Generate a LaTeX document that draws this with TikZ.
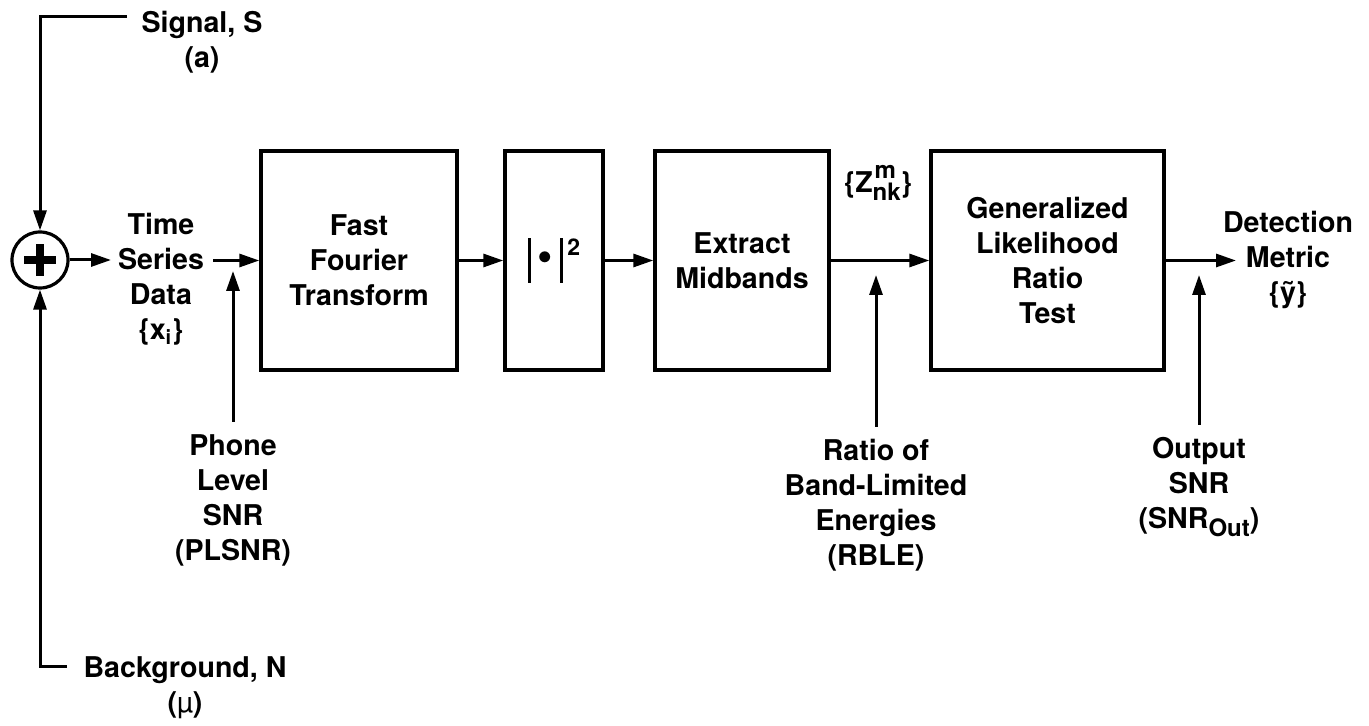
\documentclass[tikz,border=0pt]{standalone}
\usepackage{fontspec}
\setmainfont{TeX Gyre Heros}
\usetikzlibrary{arrows.meta}
\begin{document}
\begin{tikzpicture}[x=0.5pt,y=-0.5pt,
  lbl/.style={font=\bfseries\fontsize{14.3}{17.5}\selectfont, align=center, inner sep=0pt},
  blk/.style={draw, line width=1.7pt, inner sep=0pt, minimum height=109.5pt, font=\bfseries\fontsize{14.3}{17.5}\selectfont, align=center},
  arr/.style={line width=1.5pt, -{Triangle[length=10pt,width=6.5pt]}},
  ln/.style={line width=1.5pt}]
\useasboundingbox (0,0) rectangle (1369,726);

% summing junction
\node[circle, draw, line width=1.6pt, minimum size=28pt, inner sep=0pt] (sum) at (40,260) {};
\draw[line width=3.6pt] ([xshift=-8pt]sum.center) -- ([xshift=8pt]sum.center);
\draw[line width=3.6pt] ([yshift=-8pt]sum.center) -- ([yshift=8pt]sum.center);

% blocks
\node[blk, minimum width=98pt] (fft) at (359,260.5) {Fast\\Fourier\\Transform};
\node[blk, minimum width=49pt] (mag) at (554,260.5) {\rule[-5.5pt]{1.5pt}{22.5pt}\kern3.5pt\raisebox{0.5pt}{\fontsize{22}{22}\selectfont\textbullet}\kern3.5pt\rule[-5.5pt]{1.5pt}{22.5pt}\kern2pt\raisebox{8pt}{\fontsize{11.5}{12}\selectfont 2}};
\node[blk, minimum width=87pt] (ext) at (742,260.5) {Extract\\Midbands};
\node[blk, minimum width=116.5pt] (glrt) at (1047.5,260.5) {Generalized\\Likelihood\\Ratio\\Test};

% labels
\node[lbl] (sig) at (202,42) {Signal, S\\(a)};
\node[lbl] (bg) at (185,688) {Background, N\\({\mdseries µ})};
\node[lbl] (tsd) at (161,279) {Time\\Series\\Data\\\{x\textsubscript{i}\}};
\node[lbl] (plsnr) at (233,500) {Phone\\Level\\SNR\\(PLSNR)};
\node[lbl] (zm) at (878,183) {\{Z\makebox[0pt][l]{\raisebox{7pt}{\fontsize{12}{12}\selectfont\kern1pt m}}\raisebox{-4pt}{\fontsize{12}{12}\selectfont nk}\}};
\node[lbl] (rble) at (876,505) {Ratio of\\Band-Limited\\Energies\\(RBLE)};
\node[lbl] (osnr) at (1199,487) {Output\\SNR\\(SNR\raisebox{-4pt}{\fontsize{12}{12}\selectfont Out})};
\node[lbl] (det) at (1288,260) {Detection\\Metric\\\{\~{y}\}};

% free ends
\coordinate (sigend) at (127,17);
\coordinate (bgend) at (67,666);
\coordinate (tsdin) at (111,260);
\coordinate (tsdout) at (213,260.5);
\coordinate (plin) at (233,271);
\coordinate (rblein) at (876,275);
\coordinate (osnrin) at (1199,275);
\coordinate (detin) at (1236,260.5);

% connectors
\draw[arr] (sigend) -| (sum);
\draw[arr] (bgend) -| (sum);
\draw[arr] (sum) -- (tsdin);
\draw[arr] (tsdout) -- (fft);
\draw[arr, shorten <=6pt] (plsnr) -- (plin);
\draw[arr] (fft) -- (mag);
\draw[arr] (mag) -- (ext);
\draw[arr] (ext) -- (glrt);
\draw[arr, shorten <=6pt] (rble) -- (rblein);
\draw[arr] (glrt.east) -- (detin);
\draw[arr, shorten <=6pt] (osnr) -- (osnrin);
\end{tikzpicture}
\end{document}
